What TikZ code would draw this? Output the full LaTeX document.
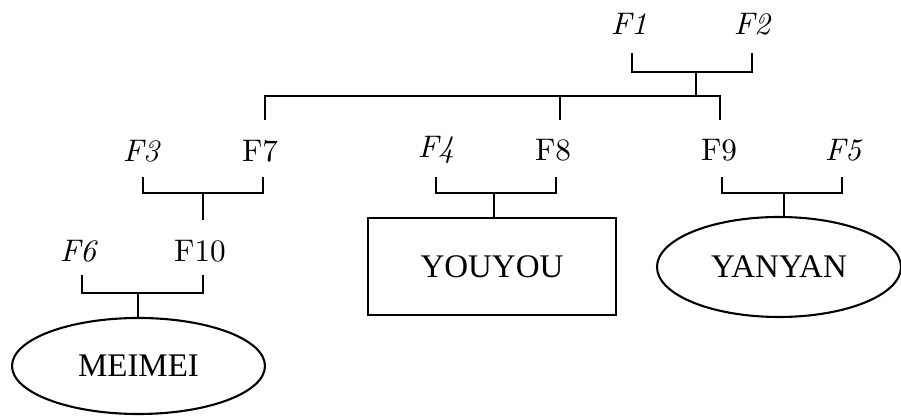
\documentclass[tikz,border=0pt]{standalone}
\usepackage{fontspec}
\newfontfamily\namefont{Liberation Serif}
\usetikzlibrary{shapes.geometric}
\tikzset{
  lbl/.style={inner sep=0pt, font=\fontsize{10.4}{12}\selectfont, anchor=center},
  ilbl/.style={lbl, font=\fontsize{10.4}{12}\selectfont\itshape},
  conn/.style={line width=0.62pt, line join=miter},
  boxnode/.style={draw, line width=0.7pt, rectangle, inner sep=0pt, minimum width=82.67pt, minimum height=32.33pt, font=\fontsize{11}{13}\selectfont\namefont},
  ovalnode/.style={draw, line width=0.7pt, ellipse, inner sep=0pt, font=\fontsize{11}{13}\selectfont\namefont}
}
\begin{document}
\begin{tikzpicture}[x=0.33333pt,y=-0.33333pt]
\fill[white] (0,0) rectangle (901,419);
\useasboundingbox (0,0) rectangle (901,419);

% labels
\node[ilbl] (F1) at (629,24) {F1};
\node[ilbl] (F2) at (752,24) {F2};
\node[ilbl] (F3) at (141,151) {F3};
\node[lbl]  (F7) at (260,151) {F7};
\node[ilbl] (F4) at (436,150) {F4};
\node[lbl]  (F8) at (553,150) {F8};
\node[lbl]  (F9) at (719,150) {F9};
\node[ilbl] (F5) at (843,150) {F5};
\node[ilbl] (F6) at (78,251) {F6};
\node[lbl]  (F10) at (200,251) {F10};

% shapes
\node[boxnode] (you) at (492,266.5) {YOUYOU};
\node[ovalnode, minimum width=81.33pt, minimum height=33.33pt] (yan) at (779,267) {YANYAN};
\node[ovalnode, minimum width=84.33pt, minimum height=32pt] (mei) at (138.5,366) {MEIMEI};

% top bracket F1-F2
\coordinate (a1) at (632,53);
\coordinate (a2) at (752,53);
\coordinate (am) at (696,72);
\coordinate (bm) at (696,96);
\draw[conn] (a1) |- (am) -| (a2);
\draw[conn] (am) -- (bm);

% long bar and drops
\coordinate (d7) at (265,120);
\coordinate (d8) at (560,120);
\coordinate (d9) at (720,120);
\coordinate (br) at (720,96);
\draw[conn] (d7) |- (br) -- (d9);
\draw[conn] (d8) -- (d8 |- br);

% F3-F7 bracket
\coordinate (c1) at (143,177);
\coordinate (c2) at (263,177);
\coordinate (cm) at (203,193);
\coordinate (c10) at (203,220);
\draw[conn] (c1) |- (cm) -| (c2);
\draw[conn] (cm) -- (c10);

% F4-F8 bracket
\coordinate (e1) at (436,177);
\coordinate (e2) at (556,177);
\coordinate (em) at (494,193);
\draw[conn] (e1) |- (em) -| (e2);
\draw[conn] (em) -- (em |- you.north);

% F9-F5 bracket
\coordinate (g1) at (722,177);
\coordinate (g2) at (842,177);
\coordinate (gm) at (784,193);
\draw[conn] (g1) |- (gm) -| (g2);
\draw[conn] (gm) -- (gm |- yan.north);

% F6-F10 bracket
\coordinate (h1) at (82,275);
\coordinate (h2) at (203,275);
\coordinate (hm) at (138,293);
\draw[conn] (h1) |- (hm) -| (h2);
\draw[conn] (hm) -- (hm |- mei.north);
\end{tikzpicture}
\end{document}
